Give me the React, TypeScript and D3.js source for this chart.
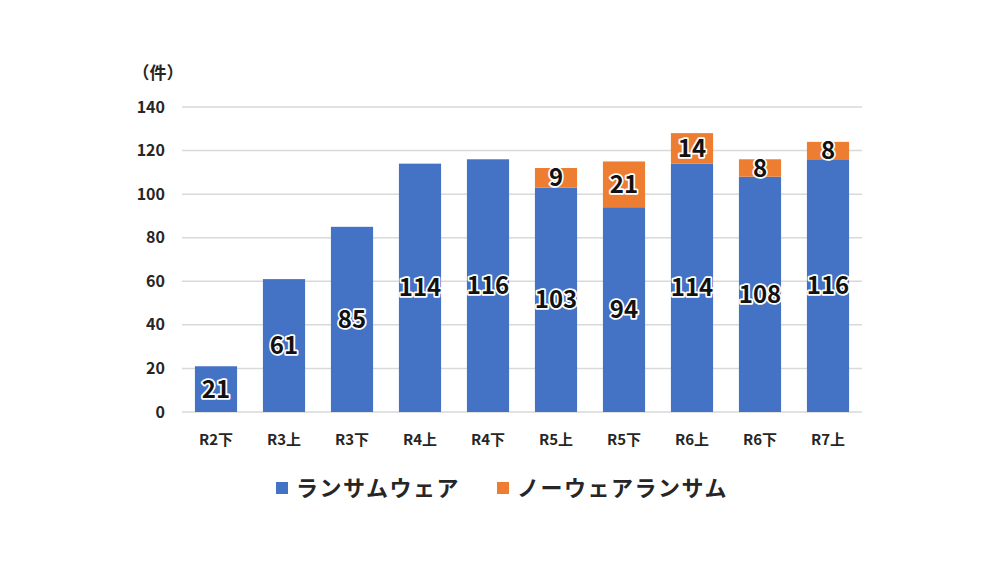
import { useEffect, useRef } from 'react'
import * as d3 from 'd3'

const categories = ['R2下', 'R3上', 'R3下', 'R4上', 'R4下', 'R5上', 'R5下', 'R6上', 'R6下', 'R7上']
const ransomware = [21, 61, 85, 114, 116, 103, 94, 114, 108, 116]
const noware = [0, 0, 0, 0, 0, 9, 21, 14, 8, 8]
const seriesNames = ['ランサムウェア', 'ノーウェアランサム']
const seriesColors = ['#4472C4', '#ED7D31']
const yTicks = [0, 20, 40, 60, 80, 100, 120, 140]

const FONT = '"Noto Sans CJK JP", "Noto Sans", sans-serif'

export default function App() {
  const ref = useRef<SVGSVGElement | null>(null)

  useEffect(() => {
    const width = 1000
    const height = 562
    const svg = d3.select(ref.current)
    svg.selectAll('*').remove()
    svg.attr('width', width).attr('height', height).style('font-family', FONT)

    svg.append('rect').attr('width', width).attr('height', height).attr('fill', '#fff')

    const left = 182
    const right = 862
    const top = 107
    const bottom = 412

    const x = d3.scaleBand<string>().domain(categories).range([left, right]).paddingInner(0.38).paddingOuter(0.19)
    const y = d3.scaleLinear().domain([0, 140]).range([bottom, top])

    // gridlines
    svg
      .append('g')
      .selectAll('line')
      .data(yTicks)
      .enter()
      .append('line')
      .attr('x1', left)
      .attr('x2', right)
      .attr('y1', (d) => y(d))
      .attr('y2', (d) => y(d))
      .attr('stroke', '#d9d9d9')
      .attr('stroke-width', 1.5)

    // y tick labels
    svg
      .append('g')
      .selectAll('text')
      .data(yTicks)
      .enter()
      .append('text')
      .attr('x', 165)
      .attr('y', (d) => y(d))
      .attr('dy', '0.35em')
      .attr('text-anchor', 'end')
      .attr('font-size', 16)
      .attr('font-weight', 'bold')
      .attr('fill', '#262626')
      .text((d) => d)

    svg
      .append('text')
      .attr('x', 158)
      .attr('y', 79)
      .attr('text-anchor', 'middle')
      .attr('font-size', 17)
      .attr('font-weight', 'bold')
      .attr('fill', '#262626')
      .text('（件）')

    const stack = categories.map((c, i) => ({ c, a: ransomware[i], b: noware[i] }))

    const bars = svg.append('g')
    bars
      .selectAll('rect.a')
      .data(stack)
      .enter()
      .append('rect')
      .attr('class', 'a')
      .attr('x', (d) => x(d.c)!)
      .attr('width', x.bandwidth())
      .attr('y', (d) => y(d.a))
      .attr('height', (d) => y(0) - y(d.a))
      .attr('fill', seriesColors[0])
    bars
      .selectAll('rect.b')
      .data(stack.filter((d) => d.b > 0))
      .enter()
      .append('rect')
      .attr('class', 'b')
      .attr('x', (d) => x(d.c)!)
      .attr('width', x.bandwidth())
      .attr('y', (d) => y(d.a + d.b))
      .attr('height', (d) => y(d.a) - y(d.a + d.b))
      .attr('fill', seriesColors[1])

    // value labels: black text with white halo
    const labels: { cx: number; cy: number; v: number }[] = []
    stack.forEach((d) => {
      const cx = x(d.c)! + x.bandwidth() / 2
      labels.push({ cx, cy: y(d.a / 2), v: d.a })
      if (d.b > 0) labels.push({ cx, cy: y(d.a + d.b / 2), v: d.b })
    })
    const lg = svg.append('g')
    lg.selectAll('text')
      .data(labels)
      .enter()
      .append('text')
      .attr('x', (d) => d.cx)
      .attr('y', (d) => d.cy)
      .attr('dy', '0.36em')
      .attr('text-anchor', 'middle')
      .attr('font-size', 24)
      .attr('font-weight', 'bold')
      .attr('fill', '#111')
      .attr('stroke', '#fff')
      .attr('stroke-width', 3.5)
      .attr('paint-order', 'stroke')
      .attr('stroke-linejoin', 'round')
      .text((d) => d.v)

    // category labels
    svg
      .append('g')
      .selectAll('text')
      .data(categories)
      .enter()
      .append('text')
      .attr('x', (d) => x(d)! + x.bandwidth() / 2)
      .attr('y', 440)
      .attr('dy', '0.35em')
      .attr('text-anchor', 'middle')
      .attr('font-size', 15)
      .attr('font-weight', 'bold')
      .attr('fill', '#262626')
      .text((d) => d)

    // legend
    const legendX = [276, 497]
    const leg = svg.append('g')
    seriesNames.forEach((name, i) => {
      leg
        .append('rect')
        .attr('x', legendX[i])
        .attr('y', 482)
        .attr('width', 12)
        .attr('height', 12)
        .attr('fill', seriesColors[i])
      leg
        .append('text')
        .attr('x', legendX[i] + 20)
        .attr('y', 488)
        .attr('dy', '0.36em')
        .attr('font-size', 22)
        .attr('font-weight', 'bold')
        .attr('letter-spacing', 1.5)
        .attr('fill', '#262626')
        .text(name)
    })
  }, [])

  return <svg ref={ref} style={{ position: 'absolute', left: 0, top: 0 }} />
}
